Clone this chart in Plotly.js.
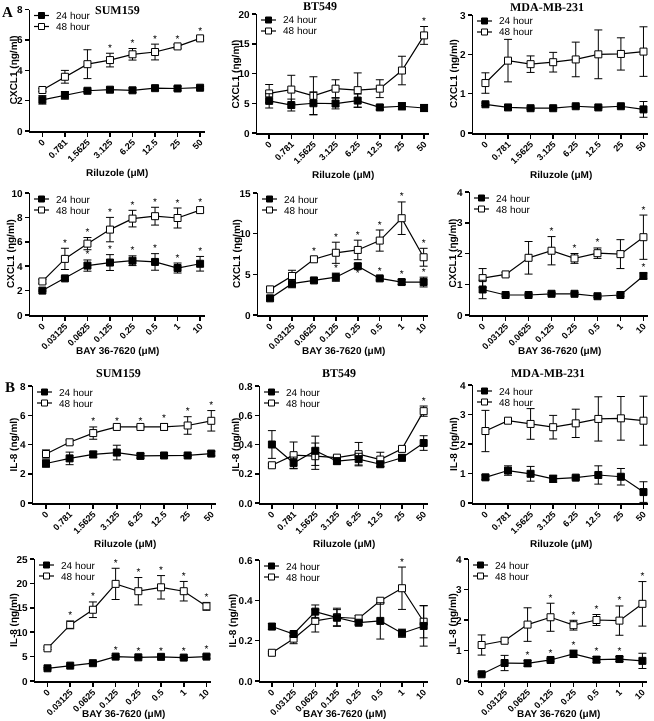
<!DOCTYPE html>
<html><head><meta charset="utf-8">
<script src="https://cdn.plot.ly/plotly-3.0.1.min.js"></script>
<style>
html,body{margin:0;padding:0;background:#fff}
#chart{width:654px;height:721px}
#chart svg text{text-rendering:geometricPrecision}
#chart .main-svg{will-change:transform}
</style>
</head><body><div id="chart"></div>
<script>
// ---------- categories / labels ----------
const riluzoleDoses = ['0','0.781','1.5625','3.125','6.25','12.5','25','50'];
const bayDoses = ['0','0.03125','0.0625','0.125','0.25','0.5','1','10'];
const seriesNames = ['24 hour','48 hour'];
const cellLines = ['SUM159','BT549','MDA-MB-231'];

// ---------- A: CXCL1, Riluzole ----------
const cxcl1RilSum159_24 = [2.05, 2.35, 2.65, 2.72, 2.68, 2.82, 2.80, 2.85];
const cxcl1RilSum159_24err = [0.28, 0.25, 0.10, 0.12, 0.15, 0.15, 0.12, 0.08];
const cxcl1RilSum159_48 = [2.70, 3.57, 4.40, 4.67, 5.05, 5.20, 5.57, 6.10];
const cxcl1RilSum159_48err = [0.10, 0.42, 0.95, 0.45, 0.38, 0.52, 0.12, 0.12];
const cxcl1RilSum159_24sig = [0,0,0,0,0,0,0,0];
const cxcl1RilSum159_48sig = [0,0,0,1,1,1,1,1];

const cxcl1RilBt549_24 = [5.40, 4.70, 5.00, 4.95, 5.45, 4.30, 4.50, 4.20];
const cxcl1RilBt549_24err = [1.20, 1.00, 1.90, 0.90, 1.10, 0.40, 0.60, 0.60];
const cxcl1RilBt549_48 = [6.65, 7.30, 6.25, 7.45, 7.20, 7.45, 10.50, 16.40];
const cxcl1RilBt549_48err = [1.50, 2.40, 3.20, 1.50, 2.90, 1.50, 2.40, 1.50];
const cxcl1RilBt549_24sig = [0,0,0,0,0,0,0,0];
const cxcl1RilBt549_48sig = [0,0,0,0,0,0,0,1];

const cxcl1RilMda_24 = [0.73, 0.65, 0.63, 0.63, 0.68, 0.65, 0.68, 0.60];
const cxcl1RilMda_24err = [0.03, 0.03, 0.03, 0.03, 0.03, 0.03, 0.03, 0.20];
const cxcl1RilMda_48 = [1.27, 1.84, 1.75, 1.80, 1.87, 2.00, 2.01, 2.07];
const cxcl1RilMda_48err = [0.26, 0.54, 0.21, 0.25, 0.44, 0.62, 0.41, 0.63];
const cxcl1RilMda_24sig = [0,0,0,0,0,0,0,0];
const cxcl1RilMda_48sig = [0,0,0,0,0,0,0,0];

// ---------- A: CXCL1, BAY 36-7620 ----------
const cxcl1BaySum159_24 = [2.00, 3.00, 4.05, 4.30, 4.45, 4.35, 3.85, 4.20];
const cxcl1BaySum159_24err = [0.05, 0.10, 0.46, 0.65, 0.40, 0.68, 0.41, 0.60];
const cxcl1BaySum159_48 = [2.75, 4.60, 5.85, 7.00, 7.90, 8.10, 7.95, 8.60];
const cxcl1BaySum159_48err = [0.15, 0.87, 0.50, 1.00, 0.68, 0.73, 0.82, 0.20];
const cxcl1BaySum159_24sig = [0,0,1,1,1,1,1,1];
const cxcl1BaySum159_48sig = [0,1,1,1,1,1,1,1];

const cxcl1BayBt549_24 = [2.05, 3.85, 4.25, 4.65, 6.00, 4.50, 4.05, 4.05];
const cxcl1BayBt549_24err = [0.15, 0.50, 0.20, 0.50, 0.30, 0.20, 0.30, 0.60];
const cxcl1BayBt549_48 = [3.15, 4.80, 6.85, 7.65, 8.00, 9.15, 11.90, 7.10];
const cxcl1BayBt549_48err = [0.10, 0.70, 0.30, 1.30, 1.20, 1.30, 2.00, 1.10];
const cxcl1BayBt549_24sig = [0,0,0,1,-1,1,1,1];
const cxcl1BayBt549_48sig = [0,0,1,1,1,1,1,1];

const cxcl1BayMda_24 = [0.83, 0.65, 0.65, 0.69, 0.69, 0.61, 0.65, 1.27];
const cxcl1BayMda_24err = [0.30, 0.04, 0.04, 0.04, 0.04, 0.04, 0.04, 0.10];
const cxcl1BayMda_48 = [1.20, 1.32, 1.86, 2.09, 1.84, 2.01, 1.98, 2.53];
const cxcl1BayMda_48err = [0.31, 0.06, 0.53, 0.46, 0.16, 0.17, 0.47, 0.72];
const cxcl1BayMda_24sig = [0,0,0,0,0,0,0,1];
const cxcl1BayMda_48sig = [0,0,0,1,1,1,0,1];

// ---------- B: IL-8, Riluzole ----------
const il8RilSum159_24 = [2.70, 3.05, 3.32, 3.45, 3.22, 3.25, 3.25, 3.38];
const il8RilSum159_24err = [0.25, 0.43, 0.22, 0.50, 0.15, 0.08, 0.06, 0.15];
const il8RilSum159_48 = [3.35, 4.15, 4.78, 5.20, 5.20, 5.20, 5.30, 5.62];
const il8RilSum159_48err = [0.28, 0.15, 0.42, 0.06, 0.06, 0.22, 0.60, 0.70];
const il8RilSum159_24sig = [0,0,0,0,0,0,0,0];
const il8RilSum159_48sig = [0,0,1,1,1,1,1,1];

const il8RilBt549_24 = [0.400, 0.274, 0.357, 0.286, 0.300, 0.265, 0.309, 0.410];
const il8RilBt549_24err = [0.095, 0.040, 0.100, 0.020, 0.040, 0.015, 0.020, 0.050];
const il8RilBt549_48 = [0.258, 0.327, 0.320, 0.310, 0.334, 0.297, 0.370, 0.628];
const il8RilBt549_48err = [0.010, 0.090, 0.090, 0.015, 0.080, 0.050, 0.015, 0.035];
const il8RilBt549_24sig = [0,0,0,0,0,0,0,0];
const il8RilBt549_48sig = [0,0,0,0,0,0,0,1];

const il8RilMda_24 = [0.87, 1.10, 0.99, 0.82, 0.86, 0.95, 0.89, 0.37];
const il8RilMda_24err = [0.08, 0.16, 0.25, 0.12, 0.05, 0.31, 0.28, 0.35];
const il8RilMda_48 = [2.44, 2.79, 2.68, 2.57, 2.70, 2.85, 2.87, 2.79];
const il8RilMda_48err = [0.70, 0.05, 0.52, 0.40, 0.48, 0.75, 0.74, 0.83];
const il8RilMda_24sig = [0,0,0,0,0,0,0,0];
const il8RilMda_48sig = [0,0,0,0,0,0,0,0];

// ---------- B: IL-8, BAY 36-7620 ----------
const il8BaySum159_24 = [2.60, 3.15, 3.65, 5.00, 4.85, 4.95, 4.80, 5.00];
const il8BaySum159_24err = [0.15, 0.15, 0.15, 0.20, 0.15, 0.15, 0.20, 0.35];
const il8BaySum159_48 = [6.70, 11.50, 14.60, 19.90, 18.40, 19.20, 18.40, 15.30];
const il8BaySum159_48err = [0.25, 0.80, 1.60, 3.20, 2.80, 2.40, 2.00, 0.80];
const il8BaySum159_24sig = [0,0,0,1,1,1,1,1];
const il8BaySum159_48sig = [0,1,1,1,1,1,1,1];

const il8BayBt549_24 = [0.270, 0.233, 0.344, 0.314, 0.289, 0.298, 0.237, 0.273];
const il8BayBt549_24err = [0.015, 0.010, 0.033, 0.040, 0.010, 0.090, 0.020, 0.100];
const il8BayBt549_48 = [0.140, 0.210, 0.298, 0.316, 0.310, 0.398, 0.460, 0.294];
const il8BayBt549_48err = [0.005, 0.025, 0.055, 0.045, 0.015, 0.010, 0.105, 0.080];
const il8BayBt549_24sig = [0,0,0,0,0,0,0,0];
const il8BayBt549_48sig = [0,0,0,0,0,0,1,0];

const il8BayMda_24 = [0.22, 0.59, 0.58, 0.69, 0.89, 0.70, 0.72, 0.66];
const il8BayMda_24err = [0.02, 0.25, 0.10, 0.04, 0.12, 0.10, 0.08, 0.25];
const il8BayMda_48 = [1.18, 1.32, 1.85, 2.09, 1.83, 2.00, 1.98, 2.53];
const il8BayMda_48err = [0.33, 0.06, 0.55, 0.46, 0.16, 0.18, 0.48, 0.73];
const il8BayMda_24sig = [0,0,1,1,1,1,1,0];
const il8BayMda_48sig = [0,0,0,1,1,1,1,1];

// ---------- layout helpers ----------
const W = 654, H = 721;
const px = x => x / W;
const py = y => 1 - y / H;
const SANS = 'Liberation Sans, Arial, sans-serif';
const SERIF = 'Liberation Serif, Times New Roman, serif';
const RIL = 'Riluzole (\u03bcM)', BAY = 'BAY 36-7620 (\u03bcM)';
const CX = 'CXCL1 (\u03b7g/ml)', IL_n = 'IL-8 (ng/ml)', IL_eta = 'IL-8 (\u03b7g/ml)';

const panels = [
 {doses: riluzoleDoses, d: [cxcl1RilSum159_24, cxcl1RilSum159_24err, cxcl1RilSum159_24sig, cxcl1RilSum159_48, cxcl1RilSum159_48err, cxcl1RilSum159_48sig],
  ymax: 8, dtick: 2, fmt: '', xt: RIL, yt: CX, box: [30, 204.6, 9.5, 131], xtDy: 41, ytDx: 17, title: cellLines[0], tpos: [117, 10]},
 {doses: riluzoleDoses, d: [cxcl1RilBt549_24, cxcl1RilBt549_24err, cxcl1RilBt549_24sig, cxcl1RilBt549_48, cxcl1RilBt549_48err, cxcl1RilBt549_48sig],
  ymax: 20, dtick: 5, fmt: '', xt: RIL, yt: CX, box: [257, 428.5, 14, 133], xtDy: 41, ytDx: 22, title: cellLines[1], tpos: [320, 6]},
 {doses: riluzoleDoses, d: [cxcl1RilMda_24, cxcl1RilMda_24err, cxcl1RilMda_24sig, cxcl1RilMda_48, cxcl1RilMda_48err, cxcl1RilMda_48sig],
  ymax: 3, dtick: 1, fmt: '', xt: RIL, yt: CX, box: [473, 648, 15, 133], xtDy: 41, ytDx: 19, title: cellLines[2], tpos: [547, 7]},
 {doses: bayDoses, d: [cxcl1BaySum159_24, cxcl1BaySum159_24err, cxcl1BaySum159_24sig, cxcl1BaySum159_48, cxcl1BaySum159_48err, cxcl1BaySum159_48sig],
  ymax: 10, dtick: 2, fmt: '', xt: BAY, yt: CX, box: [30, 204.6, 193, 315], xtDy: 35, ytDx: 20, title: '', tpos: null},
 {doses: bayDoses, d: [cxcl1BayBt549_24, cxcl1BayBt549_24err, cxcl1BayBt549_24sig, cxcl1BayBt549_48, cxcl1BayBt549_48err, cxcl1BayBt549_48sig],
  ymax: 15, dtick: 5, fmt: '', xt: BAY, yt: CX, box: [258, 428, 193, 315], xtDy: 35, ytDx: 22, title: '', tpos: null},
 {doses: bayDoses, d: [cxcl1BayMda_24, cxcl1BayMda_24err, cxcl1BayMda_24sig, cxcl1BayMda_48, cxcl1BayMda_48err, cxcl1BayMda_48sig],
  ymax: 4, dtick: 1, fmt: '', xt: BAY, yt: CX, box: [470, 648, 192, 315], xtDy: 35, ytDx: 18, title: '', tpos: null},
 {doses: riluzoleDoses, d: [il8RilSum159_24, il8RilSum159_24err, il8RilSum159_24sig, il8RilSum159_48, il8RilSum159_48err, il8RilSum159_48sig],
  ymax: 8, dtick: 2, fmt: '', xt: RIL, yt: IL_n, box: [33, 216, 386, 503], xtDy: 40, ytDx: 20, title: cellLines[0], tpos: [118, 373]},
 {doses: riluzoleDoses, d: [il8RilBt549_24, il8RilBt549_24err, il8RilBt549_24sig, il8RilBt549_48, il8RilBt549_48err, il8RilBt549_48sig],
  ymax: 0.8, dtick: 0.2, fmt: '.1f', xt: RIL, yt: IL_n, box: [260, 428, 386, 503], xtDy: 40, ytDx: 25, title: cellLines[1], tpos: [339, 373]},
 {doses: riluzoleDoses, d: [il8RilMda_24, il8RilMda_24err, il8RilMda_24sig, il8RilMda_48, il8RilMda_48err, il8RilMda_48sig],
  ymax: 4, dtick: 1, fmt: '', xt: RIL, yt: IL_eta, box: [473, 648, 385, 503], xtDy: 40, ytDx: 19, title: cellLines[2], tpos: [548, 373]},
 {doses: bayDoses, d: [il8BaySum159_24, il8BaySum159_24err, il8BaySum159_24sig, il8BaySum159_48, il8BaySum159_48err, il8BaySum159_48sig],
  ymax: 25, dtick: 5, fmt: '', xt: BAY, yt: IL_eta, box: [35, 211, 559, 681], xtDy: 32, ytDx: 22, title: '', tpos: null},
 {doses: bayDoses, d: [il8BayBt549_24, il8BayBt549_24err, il8BayBt549_24sig, il8BayBt549_48, il8BayBt549_48err, il8BayBt549_48sig],
  ymax: 0.6, dtick: 0.2, fmt: '.1f', xt: BAY, yt: IL_eta, box: [260, 428, 560, 681], xtDy: 32, ytDx: 28, title: '', tpos: null},
 {doses: bayDoses, d: [il8BayMda_24, il8BayMda_24err, il8BayMda_24sig, il8BayMda_48, il8BayMda_48err, il8BayMda_48sig],
  ymax: 4, dtick: 1, fmt: '', xt: BAY, yt: IL_eta, box: [469, 647, 559, 681], xtDy: 32, ytDx: 17, title: '', tpos: null}
];

const traces = [];
const layout = {
  width: W, height: H, margin: {l: 0, r: 0, t: 0, b: 0},
  paper_bgcolor: '#fff', plot_bgcolor: 'rgba(0,0,0,0)',
  showlegend: false, annotations: [], shapes: [],
  colorway: ['#000000'],
  font: {family: SANS, color: '#000'}
};

panels.forEach((p, i) => {
  const n = i + 1;
  const xa = 'x' + (n === 1 ? '' : n), ya = 'y' + (n === 1 ? '' : n);
  const [x0, x1, yt, yb] = p.box;
  const axBase = {
    showline: true, linecolor: '#000', linewidth: 1.5, mirror: false,
    showgrid: false, zeroline: false, ticks: 'outside', ticklen: 4, tickwidth: 1.5, tickcolor: '#000',
    tickfont: {family: SANS, size: 9, color: '#000', weight: 'bold'}, fixedrange: true
  };
  layout['xaxis' + (n === 1 ? '' : n)] = Object.assign({}, axBase, {
    domain: [px(x0), px(x1)], anchor: ya, type: 'category', range: [-0.55, 7.2], tickangle: -45,
    ticklabelstandoff: -3
  });
  layout['yaxis' + (n === 1 ? '' : n)] = Object.assign({}, axBase, {
    domain: [py(yb), py(yt)], anchor: xa, range: [0, p.ymax], dtick: p.dtick, tick0: 0, tickformat: p.fmt,
    tickfont: {family: SANS, size: 10, color: '#000', weight: 'bold'}
  });

  const [m24, e24, s24, m48, e48, s48] = p.d;
  const series = [
    {name: seriesNames[1], y: m48, e: e48, s: s48, fill: '#fff'},
    {name: seriesNames[0], y: m24, e: e24, s: s24, fill: '#000'}
  ];
  series.forEach(s => {
    traces.push({
      type: 'scatter', mode: 'lines+markers', name: s.name, x: p.doses, y: s.y, xaxis: xa, yaxis: ya,
      line: {color: '#000', width: 1.2},
      marker: {symbol: 'square', size: 7, color: s.fill, line: {color: '#000', width: 1}},
      error_y: {type: 'data', array: s.e, visible: true, color: '#000', thickness: 1, width: 4},
      cliponaxis: false, hoverinfo: 'skip'
    });
  });
  // significance stars
  series.forEach(s => {
    ['top', 'bottom'].forEach(pos => {
      const xs = [], ys = [];
      s.s.forEach((flag, k) => {
        if ((pos === 'top' && flag === 1) || (pos === 'bottom' && flag === -1)) {
          xs.push(p.doses[k]);
          ys.push(pos === 'top' ? s.y[k] + s.e[k] : s.y[k] - s.e[k]);
        }
      });
      if (xs.length) traces.push({
        type: 'scatter', mode: 'text', x: xs, y: ys, text: xs.map(() => '*'), xaxis: xa, yaxis: ya,
        textposition: pos + ' center',
        textfont: {family: SANS, size: 10, color: '#000000'},
        marker: {color: '#000000'}, line: {color: '#000000'},
        cliponaxis: false, hoverinfo: 'skip', showlegend: false
      });
    });
  });

  // axis titles
  layout.annotations.push({
    xref: 'paper', yref: 'paper', x: px((x0 + x1) / 2), y: py(yb + p.xtDy), text: p.xt, showarrow: false,
    xanchor: 'center', yanchor: 'middle', font: {family: SANS, size: 10, color: '#000', weight: 'bold'}
  });
  layout.annotations.push({
    xref: 'paper', yref: 'paper', x: px(x0 - p.ytDx), y: py((yt + yb) / 2), text: p.yt, showarrow: false,
    textangle: -90, xanchor: 'center', yanchor: 'middle', font: {family: SANS, size: 10, color: '#000', weight: 'bold'}
  });
  if (p.title) layout.annotations.push({
    xref: 'paper', yref: 'paper', x: px(p.tpos[0]), y: py(p.tpos[1]), text: p.title, showarrow: false,
    xanchor: 'center', yanchor: 'middle', font: {family: SERIF, size: 12, color: '#000', weight: 'bold'}
  });

  // legend (drawn in paper space)
  [[seriesNames[0], '#000'], [seriesNames[1], '#fff']].forEach(([name, fill], r) => {
    const ly = yt + 6 + r * 11;
    layout.shapes.push({type: 'line', xref: 'paper', yref: 'paper', x0: px(x0 + 4), x1: px(x0 + 19), y0: py(ly), y1: py(ly),
      line: {color: '#000', width: 1.2}});
    layout.shapes.push({type: 'rect', xref: 'paper', yref: 'paper', x0: px(x0 + 8.5), x1: px(x0 + 14.5), y0: py(ly - 3), y1: py(ly + 3),
      fillcolor: fill, line: {color: '#000', width: 1}});
    layout.annotations.push({xref: 'paper', yref: 'paper', x: px(x0 + 24), y: py(ly), text: name, showarrow: false,
      xanchor: 'left', yanchor: 'middle', font: {family: SANS, size: 10, color: '#000'}});
  });
});

// panel letters
layout.annotations.push({xref: 'paper', yref: 'paper', x: px(7), y: py(12), text: 'A', showarrow: false,
  xanchor: 'center', yanchor: 'middle', font: {family: SERIF, size: 15, color: '#000', weight: 'bold'}});
layout.annotations.push({xref: 'paper', yref: 'paper', x: px(10), y: py(387), text: 'B', showarrow: false,
  xanchor: 'center', yanchor: 'middle', font: {family: SERIF, size: 15, color: '#000', weight: 'bold'}});

Plotly.newPlot('chart', traces, layout, {displayModeBar: false, staticPlot: true}).then(gd => {
  // force plain black fill on the significance-star text
  gd.querySelectorAll('.textpoint text').forEach(t => { t.style.fill = '#000'; });
});
</script>
</body></html>
